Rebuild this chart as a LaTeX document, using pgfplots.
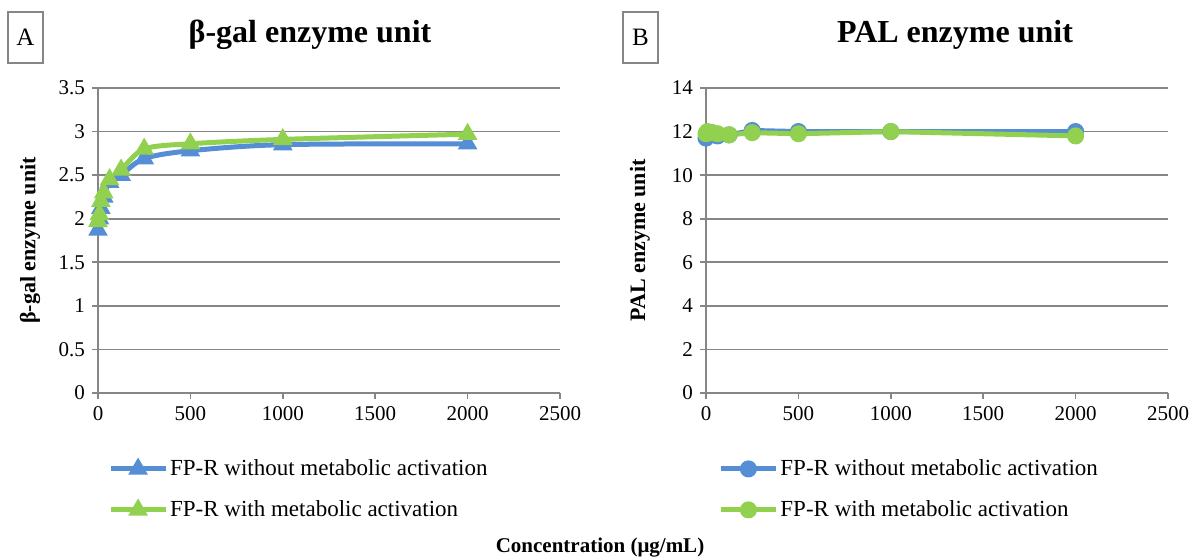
\documentclass[border=0pt]{standalone}
\usepackage{fontspec}
\setmainfont{Liberation Serif}
\usepackage{pgfplots}
\pgfplotsset{compat=1.18}
\definecolor{cblue}{RGB}{85,142,213}
\definecolor{cgreen}{RGB}{146,208,80}
\definecolor{cgrid}{RGB}{134,134,134}
\pgfplotsset{
  base/.style={
    scale only axis, width=231pt, height=152.5pt,
    xmin=0, xmax=2500, xtick={0,500,...,2500},
    axis x line*=bottom, axis y line*=left,
    axis line style={cgrid, line width=0.8pt},
    ymajorgrids, grid style={cgrid, line width=0.8pt},
    tick align=outside, major tick length=3pt,
    tick style={cgrid, line width=0.8pt},
    xtick pos=bottom, ytick pos=left,
    /pgf/number format/assume math mode=true,
    /pgf/number format/1000 sep={},
    ticklabel style={font=\fontsize{10.5}{12}\selectfont},
    legend style={draw=none, fill=none, anchor=north west, at={(axis description cs:0.021,-0.21)},
      font=\fontsize{11.5}{13}\selectfont, row sep=9pt, inner sep=0pt,
      nodes={inner sep=1pt}},
    legend cell align=left,
    legend image code/.code={\draw[mark repeat=2,mark phase=2,#1] plot coordinates {(0pt,0pt) (13.75pt,0pt) (27.5pt,0pt)};},
  }
}
\begin{document}
\begin{tikzpicture}
\useasboundingbox (0,0) rectangle (599pt,280pt);
\begin{axis}[base, at={(49pt,83.5pt)}, anchor=south west,
  ymin=0, ymax=3.5, ytick={0,0.5,...,3.5},
  yticklabel style={/pgf/number format/fixed},
  ylabel={β-gal enzyme unit},
  every axis y label/.style={at={(axis description cs:-0.147,0.5)}, rotate=90, anchor=center, font=\bfseries\fontsize{11}{13}\selectfont},
]
\addplot[cblue, line width=2.5pt, smooth, tension=0.5, mark=triangle*, mark size=3.2pt, mark options={solid}]
 coordinates {(0,1.87) (7.8,2.0) (15.6,2.12) (31.25,2.25) (62.5,2.42) (125,2.5) (250,2.69) (500,2.78) (1000,2.85) (2000,2.86)};
\addlegendentry{FP-R without metabolic activation}
\addplot[cgreen, line width=2.5pt, smooth, tension=0.5, mark=triangle*, mark size=3.2pt, mark options={solid}]
 coordinates {(0,1.97) (7.8,2.05) (15.6,2.2) (31.25,2.3) (62.5,2.45) (125,2.56) (250,2.8) (500,2.86) (1000,2.91) (2000,2.97)};
\addlegendentry{FP-R with metabolic activation}
\end{axis}
\begin{axis}[base, at={(353pt,83.5pt)}, anchor=south west,
  ymin=0, ymax=14, ytick={0,2,...,14},
  ylabel={PAL enzyme unit},
  every axis y label/.style={at={(axis description cs:-0.143,0.5)}, rotate=90, anchor=center, font=\bfseries\fontsize{11}{13}\selectfont},
  legend style={at={(axis description cs:0.026,-0.21)}},
]
\addplot[cblue, line width=2.5pt, mark=*, mark size=3pt]
 coordinates {(0,11.7) (7.8,11.95) (15.6,11.9) (31.25,11.95) (62.5,11.8) (125,11.85) (250,12.05) (500,12.0) (1000,12.0) (2000,12.0)};
\addlegendentry{FP-R without metabolic activation}
\addplot[cgreen, line width=2.5pt, mark=*, mark size=3pt]
 coordinates {(0,11.9) (7.8,12.0) (15.6,11.95) (31.25,11.95) (62.5,11.9) (125,11.85) (250,11.95) (500,11.9) (1000,12.0) (2000,11.8)};
\addlegendentry{FP-R with metabolic activation}
\end{axis}
\node[font=\bfseries\fontsize{16}{18}\selectfont] at (155pt,262.5pt) {β-gal enzyme unit};
\node[font=\bfseries\fontsize{16}{18}\selectfont] at (477.5pt,262.5pt) {PAL enzyme unit};
\draw[cgrid, line width=0.6pt] (4pt,248.5pt) rectangle (21.5pt,274pt);
\node[font=\fontsize{12.5}{14}\selectfont] at (12.75pt,261.25pt) {A};
\draw[cgrid, line width=0.6pt] (311.5pt,248.5pt) rectangle (329pt,274pt);
\node[font=\fontsize{12.5}{14}\selectfont] at (320.25pt,261.25pt) {B};
\node[font=\bfseries\fontsize{10.5}{12}\selectfont] at (300pt,6pt) {Concentration (μg/mL)};
\end{tikzpicture}
\end{document}
